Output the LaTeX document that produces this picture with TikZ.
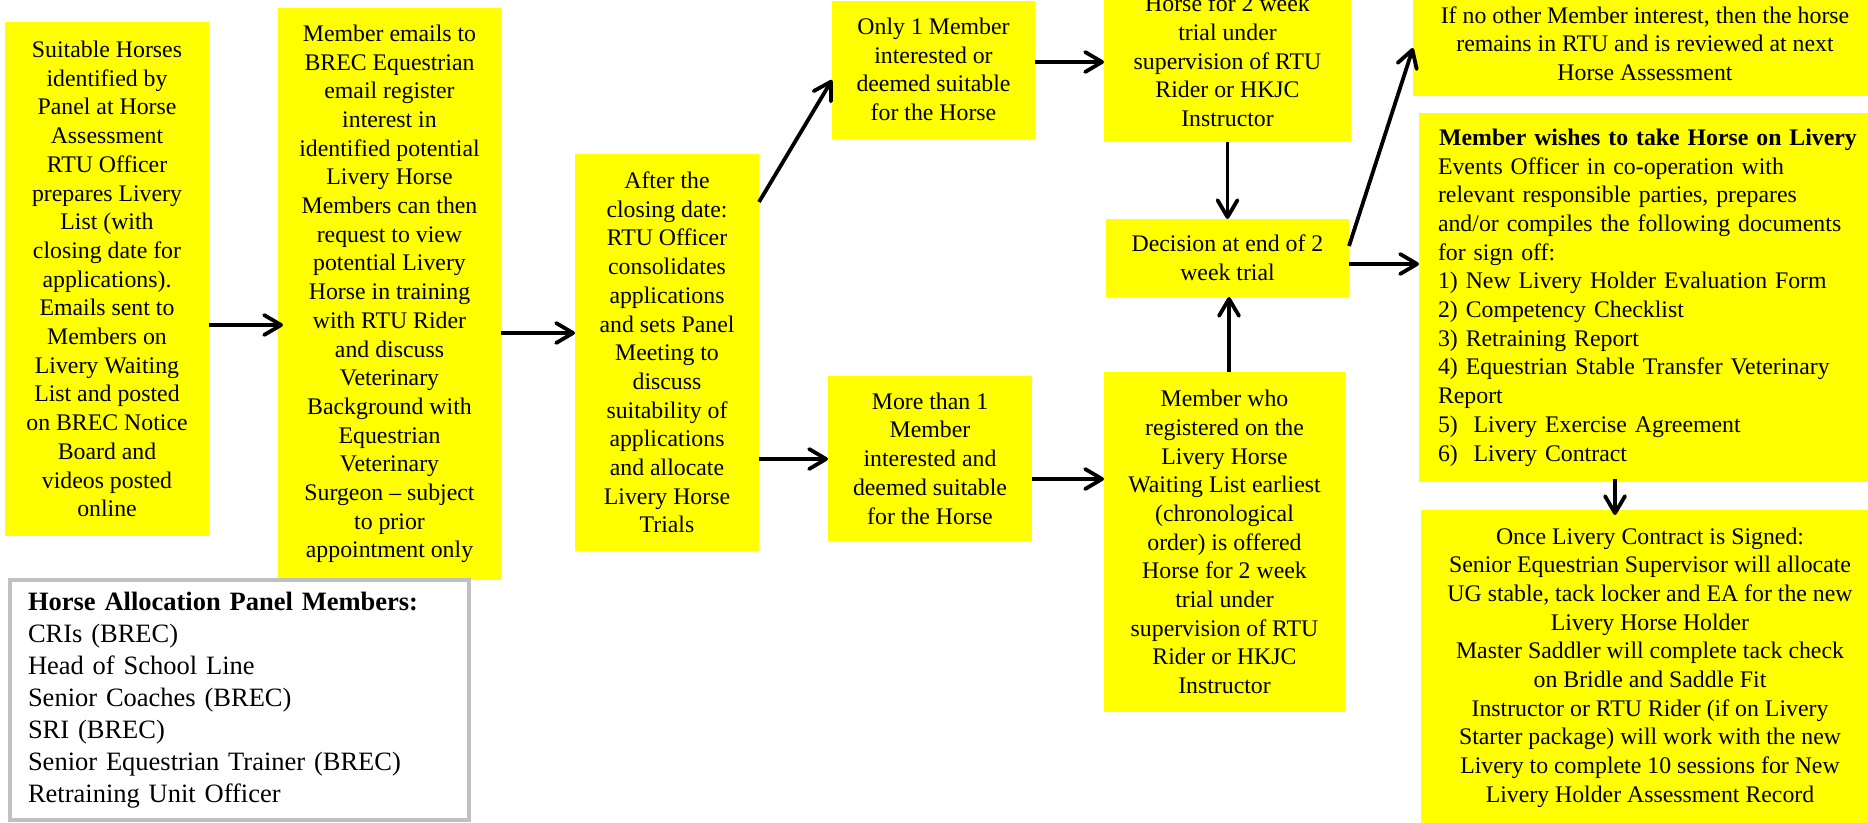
\documentclass[tikz,border=0pt]{standalone}
\usepackage{fontspec}
\setmainfont{Liberation Serif}
\usetikzlibrary{arrows.meta,calc}
\definecolor{boxyellow}{HTML}{FFFF00}
\definecolor{legendgray}{HTML}{C0C0C0}
\begin{document}
\begin{tikzpicture}[x=1pt,y=-1pt,
  box/.style={fill=boxyellow, inner sep=0pt, outer sep=0pt, align=center, font=\fontsize{23.8}{28.7}\selectfont},
  arr/.style={line width=3.8pt, -{Straight Barb[length=17pt,width=20pt,round]}},
]
\useasboundingbox (0,0) rectangle (1868,822);
\clip (0,0) rectangle (1868,822);
\fill[white] (0,0) rectangle (1868,822);

\node[box, minimum width=204pt, minimum height=514pt] (b1) at (107,279) {Suitable Horses\\identified by\\Panel at Horse\\Assessment\\RTU Officer\\prepares Livery\\List (with\\closing date for\\applications).\\Emails sent to\\Members on\\Livery Waiting\\List and posted\\on BREC Notice\\Board and\\videos posted\\online};

\node[box, minimum width=223pt, minimum height=572pt] (b2) at (389.5,294) {Member emails to\\BREC Equestrian\\email register\\interest in\\identified potential\\Livery Horse\\Members can then\\request to view\\potential Livery\\Horse in training\\with RTU Rider\\and discuss\\Veterinary\\Background with\\Equestrian\\Veterinary\\Surgeon – subject\\to prior\\appointment only};

\node[box, minimum width=184pt, minimum height=397pt] (b3) at (667,352.5) {After the\\closing date:\\RTU Officer\\consolidates\\applications\\and sets Panel\\Meeting to\\discuss\\suitability of\\applications\\and allocate\\Livery Horse\\Trials};

\node[box, minimum width=203pt, minimum height=138pt] (b4) at (933.5,69.5) {Only 1 Member\\interested or\\deemed suitable\\for the Horse};

\node[box, minimum width=204pt, minimum height=165pt] (b5) at (930,458.5) {More than 1\\Member\\interested and\\deemed suitable\\for the Horse};

\node[box, minimum width=247pt, minimum height=162pt] (b6) at (1227.5,61) {Horse for 2 week\\trial under\\supervision of RTU\\Rider or HKJC\\Instructor};

\node[box, minimum width=243pt, minimum height=78pt] (D) at (1227.5,258) {Decision at end of 2\\week trial};

\node[box, minimum width=241pt, minimum height=340pt] (b8) at (1224.5,542) {Member who\\registered on the\\Livery Horse\\Waiting List earliest\\(chronological\\order) is offered\\Horse for 2 week\\trial under\\supervision of RTU\\Rider or HKJC\\Instructor};

\node[box, minimum width=464pt, minimum height=105pt] (b7) at (1645,43.5) {If no other Member interest, then the horse\\remains in RTU and is reviewed at next\\Horse Assessment};

\node[box, minimum width=458pt, minimum height=369pt, text width=420pt, align=left] (b9) at (1648,297.5) {\hbox to\hsize{\hss\textbf{Member wishes to take Horse on Livery}\hss}\\Events Officer in co-operation with\\relevant responsible parties, prepares\\and/or compiles the following documents\\for sign off:\\1) New Livery Holder Evaluation Form\\2) Competency Checklist\\3) Retraining Report\\4) Equestrian Stable Transfer Veterinary\\Report\\5)\ \ Livery Exercise Agreement\\6)\ \ Livery Contract};

\node[box, minimum width=458pt, minimum height=315pt] (b10) at (1650,667.5) {Once Livery Contract is Signed:\\Senior Equestrian Supervisor will allocate\\UG stable, tack locker and EA for the new\\Livery Horse Holder\\Master Saddler will complete tack check\\on Bridle and Saddle Fit\\Instructor or RTU Rider (if on Livery\\Starter package) will work with the new\\Livery to complete 10 sessions for New\\Livery Holder Assessment Record};

\node[draw=legendgray, line width=4pt, fill=white, inner sep=0pt, minimum width=459pt, minimum height=240pt, text width=423pt, align=left, font=\fontsize{26.5}{32}\selectfont] (leg) at (239.5,700) {\textbf{Horse Allocation Panel Members:}\\CRIs (BREC)\\Head of School Line\\Senior Coaches (BREC)\\SRI (BREC)\\Senior Equestrian Trainer (BREC)\\Retraining Unit Officer};

\draw[arr, shorten >=-5pt] ([yshift=-46pt]b1.east) -- ([yshift=-46pt]b1.east -| b2.west);
\draw[arr] ([yshift=-39pt]b2.east) -- ([yshift=-39pt]b2.east -| b3.west);
\draw[arr] ([yshift=150.5pt]b3.east) -- ([yshift=-10.5pt]b4.west);
\draw[arr] ([yshift=-106.5pt]b3.east) -- ([yshift=-106.5pt]b3.east -| b5.west);
\draw[arr] ([yshift=7.5pt]b4.east) -- ([yshift=7.5pt]b4.east -| b6.west);
\draw[arr] ([yshift=-20.5pt]b5.east) -- ([yshift=-20.5pt]b5.east -| b8.west);
\draw[arr] (b6.south) -- (D.north);
\draw[arr] ([xshift=4.5pt]b8.north) -- ([xshift=4.5pt]b8.north |- D.south);
\draw[arr] ([yshift=12pt]D.east) -- ([yshift=-4.5pt]b7.west);
\draw[arr] ([yshift=-6pt]D.east) -- ([yshift=-6pt]D.east -| b9.west);
\draw[arr, shorten <=-3pt, shorten >=-5pt] ([xshift=-33pt]b9.south) -- ([xshift=-33pt]b9.south |- b10.north);
\end{tikzpicture}
\end{document}
